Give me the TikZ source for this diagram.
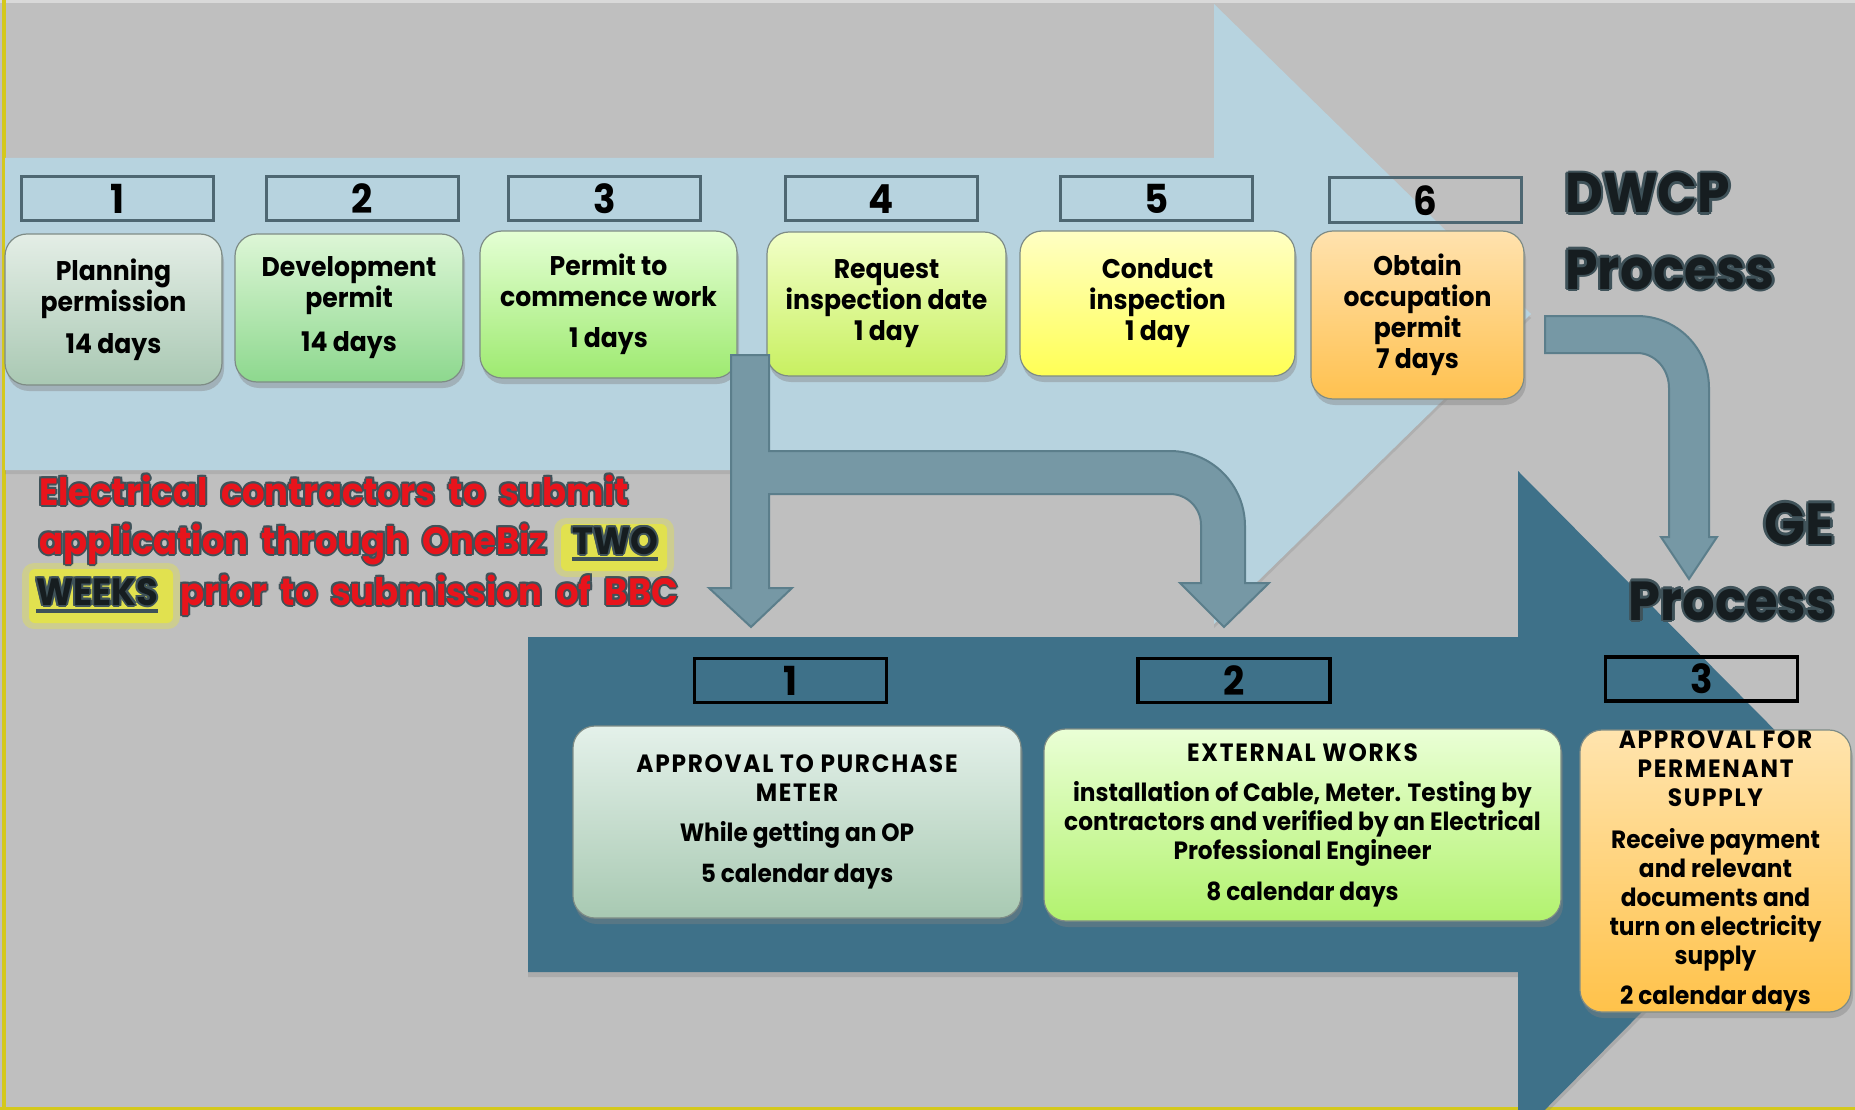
\documentclass[tikz,border=0pt]{standalone}
\usepackage{fontspec}
\setmainfont{Poppins}[FakeStretch=0.93]
\newfontfamily\redfam{Poppins}[FakeStretch=0.93, WordSpace=1.8]
\usetikzlibrary{shadows,calc}
\definecolor{bggray}{HTML}{BFBFBF}
\definecolor{topstrip}{HTML}{D9D9D9}
\definecolor{edgeyellow}{HTML}{D4C81C}
\definecolor{lightblue}{HTML}{B7D3DF}
\definecolor{darkblue}{HTML}{3E7189}
\definecolor{connfill}{HTML}{7698A5}
\definecolor{connedge}{HTML}{5B7E8B}
\definecolor{numedge}{HTML}{4E6772}
\definecolor{boxedge}{HTML}{7E8C86}
\definecolor{outlcol}{HTML}{3F5259}
\definecolor{redtxt}{HTML}{E8141C}
\definecolor{darktxt}{HTML}{161D20}
\definecolor{glowcol}{HTML}{E8E83A}
\definecolor{aTop}{HTML}{E4EEE6}\definecolor{aBot}{HTML}{A9C8B3}
\definecolor{bTop}{HTML}{DDF6D6}\definecolor{bBot}{HTML}{8DD88E}
\definecolor{cTop}{HTML}{E4FFD4}\definecolor{cBot}{HTML}{9EEA70}
\definecolor{dTop}{HTML}{F2FFC8}\definecolor{dBot}{HTML}{C8F060}
\definecolor{eTop}{HTML}{FFFFC4}\definecolor{eBot}{HTML}{FFFF55}
\definecolor{fTop}{HTML}{FFE2AE}\definecolor{fBot}{HTML}{FFC14F}
\definecolor{gTop}{HTML}{E4F1EA}\definecolor{gBot}{HTML}{A8C9B2}
\definecolor{hTop}{HTML}{EAFFD6}\definecolor{hBot}{HTML}{B2F26E}
\definecolor{iTop}{HTML}{FFE4AE}\definecolor{iBot}{HTML}{FFC24A}
\newcommand\capsline[1]{{\addfontfeature{LetterSpace=7}#1}}
\newcommand\outltext[7]{% name, position, anchor, fill colour, font, text, outline width
  \foreach \dx/\dy in {-1/0,1/0,0/-1,0/1,-0.7/-0.7,0.7/0.7,-0.7/0.7,0.7/-0.7}{
    \node[anchor=#3, inner sep=0pt, text=outlcol, font=#5] at ($#2+(#7*\dx,#7*\dy)$) {#6};}
  \node[anchor=#3, inner sep=0pt, text=#4, font=#5] (#1) at #2 {#6};}
\tikzset{
  numbox/.style={draw=numedge, line width=3pt, minimum width=192pt, minimum height=44pt, inner sep=0pt,
    font=\fontsize{40}{40}\selectfont\bfseries},
  numboxdark/.style={numbox, draw=black, line width=3.5pt},
  stepbox/.style={draw=boxedge, line width=1.2pt, rounded corners=22pt, align=center, inner sep=0pt,
    font=\fontsize{27}{31}\selectfont\bfseries,
    drop shadow={shadow xshift=2pt,shadow yshift=-6pt,opacity=.4}},
  stepboxlow/.style={stepbox, font=\fontsize{25}{29}\selectfont\bfseries},
  conn/.style={fill=connfill, draw=connedge, line width=2pt, line join=miter},
  glowA/.style={fill=glowcol, opacity=.35, rounded corners=12pt},
  glowB/.style={fill=glowcol, opacity=.75, rounded corners=6pt},
  uline/.style={fill=outlcol},
}
\begin{document}
\begin{tikzpicture}[x=1pt,y=-1pt]
\useasboundingbox (0,0) rectangle (1855,1110);
% background
\fill[bggray] (0,0) rectangle (1855,1110);
\fill[topstrip] (0,0) rectangle (1855,3.5);
\fill[edgeyellow] (2,0) rectangle (6,1110);
\fill[edgeyellow] (0,1107) rectangle (1855,1110);
% big process arrows
\path[fill=lightblue, drop shadow={shadow xshift=0pt,shadow yshift=-4pt,opacity=.25}]
  (5,158) -- (1214,158) -- (1214,4) -- (1531,314) -- (1214,624) -- (1214,470) -- (5,470) -- cycle;
\path[fill=darkblue, drop shadow={shadow xshift=0pt,shadow yshift=-5pt,opacity=.3}]
  (528,637) -- (1518,637) -- (1518,471) -- (1848,804) -- (1518,1137) -- (1518,972) -- (528,972) -- cycle;
% top numbers
\node[numbox] (n1) at (117,199) {1};
\node[numbox] (n2) at (362,199) {2};
\node[numbox] (n3) at (604.5,199) {3};
\node[numbox] (n4) at (881.5,199) {4};
\node[numbox] (n5) at (1156.5,199) {5};
\node[numbox, minimum height=45pt] (n6) at (1425.5,200.5) {6};
% top steps
\node[stepbox, top color=aTop, bottom color=aBot, minimum width=217pt, minimum height=151pt] (s1) at (113.5,309.5)
  {Planning\\permission\\[11pt]14 days};
\node[stepbox, top color=bTop, bottom color=bBot, minimum width=228pt, minimum height=148pt] (s2) at (349,308)
  {Development\\permit\\[13pt]14 days};
\node[stepbox, top color=cTop, bottom color=cBot, minimum width=257pt, minimum height=147pt] (s3) at (608.5,304.5)
  {Permit to\\commence work\\[10pt]1 days};
\node[stepbox, top color=dTop, bottom color=dBot, minimum width=239pt, minimum height=144pt] (s4) at (886.5,304)
  {Request\\inspection date\\1 day};
\node[stepbox, top color=eTop, bottom color=eBot, minimum width=275pt, minimum height=145pt] (s5) at (1157.5,303.5)
  {Conduct\\inspection\\1 day};
\node[stepbox, top color=fTop, bottom color=fBot, minimum width=213pt, minimum height=168pt] (s6) at (1417.5,315)
  {Obtain\\occupation\\permit\\7 days};
% bottom numbers
\node[numboxdark] (m1) at (790.5,680.5) {1};
\node[numboxdark] (m2) at (1234,680.5) {2};
\node[numboxdark] (m3) at (1701.5,679) {3};
% bottom steps
\node[stepboxlow, top color=gTop, bottom color=gBot, minimum width=448pt, minimum height=192pt] (t1) at (797,822)
  {\capsline{APPROVAL TO PURCHASE}\\\capsline{METER}\\[11pt]While getting an OP\\[12pt]5 calendar days};
\node[stepboxlow, top color=hTop, bottom color=hBot, minimum width=517pt, minimum height=192pt] (t2) at (1302.5,825)
  {\capsline{EXTERNAL WORKS}\\[11pt]installation of Cable, Meter. Testing by\\contractors and verified by an Electrical\\Professional Engineer\\[12pt]8 calendar days};
\node[stepboxlow, top color=iTop, bottom color=iBot, minimum width=271pt, minimum height=282pt] (t3) at (1715.5,871)
  {\capsline{APPROVAL FOR}\\\capsline{PERMENANT}\\\capsline{SUPPLY}\\[13pt]Receive payment\\and relevant\\documents and\\turn on electricity\\supply\\[11pt]2 calendar days};
% connectors
\coordinate (cA) at (731,355);
\coordinate (cB) at (1545,316);
\draw[conn] (cA) -- (769,355) -- (769,451) -- (1170,451) .. controls (1211.4,451) and (1245,484.6) .. (1245,526)
  -- (1245,583) -- (1269,583) -- (1224,627) -- (1180,583) -- (1201,583) -- (1201,525)
  .. controls (1201,507.9) and (1187.1,494) .. (1170,494) -- (769,494) -- (769,588) -- (792,588) -- (751,627)
  -- (709,588) -- (731,588) -- cycle;
\draw[conn] (cB) -- (1637,316) .. controls (1676.8,316) and (1709,348.2) .. (1709,388) -- (1709,537)
  -- (1717,537) -- (1689,579) -- (1661,537) -- (1669,537) -- (1669,388)
  .. controls (1669,368.7) and (1654.7,353) .. (1637,353) -- (1545,353) -- cycle;
% process titles
\outltext{dw}{(1565,213)}{base west}{darktxt}{\fontsize{56}{56}\selectfont\bfseries}{DWCP}{2.6}
\outltext{pr1}{(1565,289)}{base west}{darktxt}{\fontsize{56}{56}\selectfont\bfseries}{Process}{2.6}
\outltext{ge}{(1835,544)}{base east}{darktxt}{\fontsize{58}{58}\selectfont\bfseries}{GE}{2.6}
\outltext{pr2}{(1835,620)}{base east}{darktxt}{\fontsize{55}{55}\selectfont\bfseries}{Process}{2.6}
% glow behind highlighted words
\fill[glowA] (554,518) rectangle (674,577);
\fill[glowB] (561,524) rectangle (667,571);
\fill[glowA] (22,563) rectangle (180,629);
\fill[glowB] (29,569) rectangle (173,623);
% red note
\outltext{r1}{(39,505)}{base west}{redtxt}{\fontsize{38}{38}\selectfont\bfseries\redfam}{Electrical contractors to submit}{2}
\outltext{r2}{(39,554)}{base west}{redtxt}{\fontsize{38}{38}\selectfont\bfseries\redfam}{application through OneBiz}{2}
\outltext{two}{(572,554)}{base west}{darktxt}{\fontsize{38}{38}\selectfont\bfseries\redfam}{TWO}{2}
\outltext{wk}{(36,605)}{base west}{darktxt}{\fontsize{38}{38}\selectfont\bfseries\redfam}{WEEKS}{2}
\outltext{r3}{(180,605)}{base west}{redtxt}{\fontsize{38}{38}\selectfont\bfseries\redfam}{prior to submission of BBC}{2}
\fill[uline] ($(two.base west)+(0,3)$) rectangle ($(two.base east)+(0,7)$);
\fill[uline] ($(wk.base west)+(0,4)$) rectangle ($(wk.base east)+(0,8)$);
\end{tikzpicture}
\end{document}
